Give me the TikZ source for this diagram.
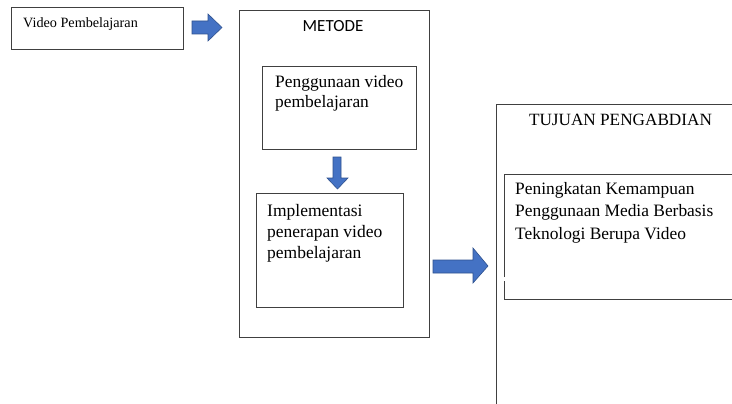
\documentclass[tikz,border=0pt]{standalone}
\usepackage{fontspec}
\setmainfont{Liberation Serif}
\newfontfamily\calfont{Carlito}
\begin{document}
\begin{tikzpicture}[x=1pt,y=-1pt,
  boxline/.style={draw=black!75,line width=0.9pt},
  boxnode/.style={boxline,rectangle,inner sep=0pt,anchor=north west},
  txt/.style={anchor=north west,inner sep=0pt,align=left},
  blockarrow/.style={fill={rgb,255:red,68;green,114;blue,196},draw={rgb,255:red,47;green,82;blue,143},line width=0.6pt,line join=miter}]
\useasboundingbox (0,0) rectangle (732,404);
\clip (0,0) rectangle (732,404);
\fill[white] (0,0) rectangle (732,404);

% Box 1
\node[boxnode,minimum width=172pt,minimum height=42pt] (vp) at (11,7) {};
\node[anchor=base west,inner sep=0pt,font=\fontsize{14.2}{16}\selectfont] (vpt) at (23,28) {Video Pembelajaran};

% METODE
\node[boxnode,minimum width=190pt,minimum height=327pt] (met) at (239,10) {};
\node[anchor=base,inner sep=0pt,font=\calfont\fontsize{17}{20}\selectfont] (mett) at (333,32) {METODE};
\node[boxnode,minimum width=154pt,minimum height=83pt] (pv) at (262,66) {};
\node[txt,font=\fontsize{17.4}{20}\selectfont] (pvt) at (275,75) {Penggunaan video\\pembelajaran};
\node[boxnode,minimum width=147pt,minimum height=114pt] (ip) at (256,193) {};
\node[txt,font=\fontsize{17.5}{21}\selectfont] (ipt) at (267,204) {Implementasi\\penerapan video\\pembelajaran};

% TUJUAN
\coordinate (tjtl) at (496,104);
\draw[boxline] (496,410) -- (tjtl) -- (740,104);
\node[anchor=base,inner sep=0pt,font=\fontsize{17.2}{20}\selectfont] (tjt) at (620.5,125) {TUJUAN PENGABDIAN};
\coordinate (ptl) at (504,174);
\coordinate (pbl) at (504,299);
\draw[boxline] (504,277) -- (ptl) -- (740,174);
\draw[boxline] (504,281) -- (pbl) -- (740,299);
\node[txt,font=\fontsize{17.4}{22.5}\selectfont] (ptt) at (515,182) {Peningkatan Kemampuan\\Penggunaan Media Berbasis\\Teknologi Berupa Video};

% Block arrows
\draw[blockarrow] (192,21) -- (208,21) -- (208,14) -- (222,27.5) -- (208,41) -- (208,34) -- (192,34) -- cycle;
\draw[blockarrow] (333,157) -- (341,157) -- (341,178) -- (348,178) -- (337.5,189) -- (327,178) -- (333,178) -- cycle;
\draw[blockarrow] (433,260) -- (473,260) -- (473,248) -- (488,266) -- (473,283) -- (473,273) -- (433,273) -- cycle;
\end{tikzpicture}
\end{document}
